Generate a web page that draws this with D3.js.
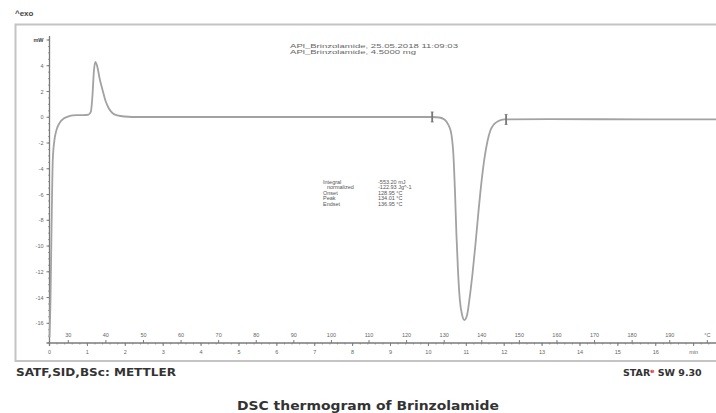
<!DOCTYPE html>
<html>
<head>
<meta charset="utf-8">
<script src="https://cdn.jsdelivr.net/npm/d3@7"></script>
<style>
  html, body { margin: 0; padding: 0; background: #fff; }
  svg { display: block; }
  text { font-family: "Liberation Sans", Arial, sans-serif; }
  text.heavy { font-family: "DejaVu Sans", Verdana, sans-serif; }
</style>
</head>
<body>
<svg id="chart" width="716" height="413"></svg>
<script>
// ── Data ───────────────────────────────────────────────────────────────────

// time in minutes, heat flow in mW
const timeMin = [0, 0.026, 0.053, 0.087, 0.13, 0.177, 0.264, 0.396, 0.53, 0.71, 0.9, 1.03,
  1.09, 1.135, 1.17, 1.21, 1.27, 1.32, 1.4, 1.48, 1.56, 1.66, 1.79, 1.98, 2.37, 3.96, 6.6,
  9.23, 10.1, 10.29, 10.42, 10.53, 10.61, 10.66, 10.7, 10.74, 10.78, 10.83, 10.89, 10.95,
  11.02, 11.08, 11.16, 11.24, 11.32, 11.4, 11.48, 11.56, 11.64, 11.74, 11.85, 12.0, 13.19,
  15.83, 17.6];
const heatFlow = [-17.1, -14.2, -8.8, -3.3, -1.77, -1.07, -0.45, -0.06, 0.1, 0.17, 0.17, 0.21,
  0.41, 1.73, 3.51, 4.29, 3.83, 3.05, 2.12, 1.26, 0.72, 0.33, 0.14, 0.06, 0.02, 0.02, 0.02,
  0.02, 0.02, -0.02, -0.17, -0.6, -1.38, -2.93, -5.65, -9.15, -11.86, -14.2, -15.36, -15.75,
  -15.36, -14.2, -12.25, -9.92, -7.36, -5.03, -3.17, -1.84, -0.99, -0.52, -0.29, -0.17, -0.14,
  -0.17, -0.17];

// integration limits (min)
const limitTimes = [10.1, 12.05];

const yTicks   = [6, 4, 2, 0, -2, -4, -6, -8, -10, -12, -14, -16];
const yUnit    = 'mW';
const minTicks = d3.range(0, 18);
const minUnit  = 'min';
const tempTicks = d3.range(30, 210, 10);
const tempUnit = '°C';
const startTemp = 25, heatRate = 10.08;

const sampleLines = ['APl_Brinzolamide, 25.05.2018 11:09:03', 'APl_Brinzolamide, 4.5000 mg'];
const resultLabels = ['Integral', 'normalized', 'Onset', 'Peak', 'Endset'];
const resultValues = ['-553.20 mJ', '-122.93 Jg^-1', '128.95 °C', '134.01 °C', '136.95 °C'];

// ── Layout ─────────────────────────────────────────────────────────────────

const svg = d3.select('#chart');
const axisCol = '#7a7a7a', curveCol = '#a2a2a2', textCol = '#666';

const x = d3.scaleLinear().domain([0, 17.59]).range([49.5, 716]);
const y = d3.scaleLinear().domain([-17.53, 6.31]).range([343, 36]);
const tempToTime = T => (T - startTemp) / heatRate;

// outer frame
svg.append('rect')
  .attr('x', 15.5).attr('y', 24.5).attr('width', 720).attr('height', 336.5)
  .attr('fill', 'none').attr('stroke', '#c4c4c4').attr('stroke-width', 2);

// ^exo
svg.append('text').attr('x', 15).attr('y', 16)
  .attr('font-size', 8).attr('font-weight', 'bold').attr('fill', '#444')
  .text('^exo');

// ── Y axis ─────────────────────────────────────────────────────────────────

const yAxis = svg.append('g').attr('class', 'y-axis');
yAxis.append('line')
  .attr('x1', x(0)).attr('x2', x(0)).attr('y1', 36).attr('y2', 346)
  .attr('stroke', axisCol).attr('stroke-width', 1.3);

yAxis.selectAll('line.minor')
  .data(d3.range(-17.5, 6.01, 0.5))
  .join('line').attr('class', 'minor')
  .attr('x1', x(0) - 1.5).attr('x2', x(0))
  .attr('y1', d => y(d)).attr('y2', d => y(d))
  .attr('stroke', axisCol).attr('stroke-width', 0.7);

yAxis.selectAll('line.major')
  .data(yTicks)
  .join('line').attr('class', 'major')
  .attr('x1', x(0) - 3).attr('x2', x(0))
  .attr('y1', d => y(d)).attr('y2', d => y(d))
  .attr('stroke', axisCol).attr('stroke-width', 1);

yAxis.selectAll('text')
  .data(yTicks)
  .join('text')
  .attr('x', x(0) - 6).attr('y', d => y(d) + 2)
  .attr('text-anchor', 'end').attr('font-size', 5.5)
  .attr('fill', (d, i) => i === 0 ? '#444' : textCol)
  .attr('font-weight', (d, i) => i === 0 ? 'bold' : 'normal')
  .text((d, i) => i === 0 ? yUnit : d);

// ── X axis (minutes below, temperature above) ──────────────────────────────

const xAxis = svg.append('g').attr('class', 'x-axis');
const axisY = 343;
xAxis.append('line')
  .attr('x1', x(0) - 3).attr('x2', 716).attr('y1', axisY).attr('y2', axisY)
  .attr('stroke', axisCol).attr('stroke-width', 1.3);

xAxis.selectAll('line.minor')
  .data(d3.range(0, 17.6, 0.2))
  .join('line').attr('class', 'minor')
  .attr('x1', d => x(d)).attr('x2', d => x(d))
  .attr('y1', axisY).attr('y2', axisY + 1.5)
  .attr('stroke', axisCol).attr('stroke-width', 0.7);

xAxis.selectAll('line.major')
  .data(minTicks)
  .join('line').attr('class', 'major')
  .attr('x1', d => x(d)).attr('x2', d => x(d))
  .attr('y1', axisY).attr('y2', axisY + 3)
  .attr('stroke', axisCol).attr('stroke-width', 1);

xAxis.selectAll('text.min')
  .data(minTicks)
  .join('text').attr('class', 'min')
  .attr('x', d => x(d)).attr('y', 354)
  .attr('text-anchor', 'middle').attr('font-size', 5.5).attr('fill', textCol)
  .text((d, i) => i === minTicks.length - 1 ? minUnit : d);

xAxis.selectAll('line.temp')
  .data(tempTicks)
  .join('line').attr('class', 'temp')
  .attr('x1', d => x(tempToTime(d))).attr('x2', d => x(tempToTime(d)))
  .attr('y1', axisY - 3).attr('y2', axisY)
  .attr('stroke', axisCol).attr('stroke-width', 1);

xAxis.selectAll('text.temp')
  .data(tempTicks)
  .join('text').attr('class', 'temp')
  .attr('x', d => x(tempToTime(d))).attr('y', 337)
  .attr('text-anchor', 'middle').attr('font-size', 5.5).attr('fill', textCol)
  .text((d, i) => i === tempTicks.length - 1 ? tempUnit : d);

// ── Curve ──────────────────────────────────────────────────────────────────

const pts = timeMin.map((t, i) => [t, heatFlow[i]]);
const line = d3.line().x(d => x(d[0])).y(d => y(d[1])).curve(d3.curveMonotoneX);

svg.append('path')
  .datum(pts)
  .attr('d', line)
  .attr('fill', 'none').attr('stroke', curveCol).attr('stroke-width', 1.8);

// integration limit markers
const interp = t => {
  const i = d3.bisectRight(timeMin, t) - 1;
  const f = (t - timeMin[i]) / (timeMin[i + 1] - timeMin[i]);
  return heatFlow[i] + f * (heatFlow[i + 1] - heatFlow[i]);
};
const marks = svg.append('g').attr('class', 'limits');
for (const t of limitTimes) {
  const cx = x(t), cy = y(interp(t));
  marks.append('line').attr('x1', cx).attr('x2', cx).attr('y1', cy - 5).attr('y2', cy + 5)
    .attr('stroke', '#777').attr('stroke-width', 1.8);
  marks.append('line').attr('x1', cx - 1.5).attr('x2', cx + 1.5).attr('y1', cy - 5).attr('y2', cy - 5)
    .attr('stroke', '#777').attr('stroke-width', 0.8);
  marks.append('line').attr('x1', cx - 1.5).attr('x2', cx + 1.5).attr('y1', cy + 5).attr('y2', cy + 5)
    .attr('stroke', '#777').attr('stroke-width', 0.8);
}

// ── Annotations ────────────────────────────────────────────────────────────

svg.append('g').selectAll('text')
  .data(sampleLines)
  .join('text')
  .attr('x', 290).attr('y', (d, i) => 48 + i * 6)
  .attr('font-size', 5.5).attr('fill', '#666')
  .attr('lengthAdjust', 'spacingAndGlyphs')
  .attr('textLength', (d, i) => i === 0 ? 168 : 126)
  .text(d => d);

const res = svg.append('g').attr('class', 'results');
res.selectAll('text.lbl')
  .data(resultLabels)
  .join('text').attr('class', 'lbl')
  .attr('x', (d, i) => i === 1 ? 327 : 323).attr('y', (d, i) => 183.5 + i * 5.6)
  .attr('font-size', 5.5).attr('fill', '#555')
  .text(d => d);
res.selectAll('text.val')
  .data(resultValues)
  .join('text').attr('class', 'val')
  .attr('x', 378).attr('y', (d, i) => 183.5 + i * 5.6)
  .attr('font-size', 5.5).attr('fill', '#555')
  .text(d => d);

// ── Footer ─────────────────────────────────────────────────────────────────

svg.append('text').attr('class', 'heavy').attr('x', 16).attr('y', 376)
  .attr('font-size', 10).attr('font-weight', 'bold')
  .attr('fill', '#333').attr('lengthAdjust', 'spacingAndGlyphs').attr('textLength', 160)
  .text('SATF,SID,BSc: METTLER');

const star = svg.append('text').attr('class', 'heavy').attr('x', 623).attr('y', 376)
  .attr('font-size', 9.5).attr('font-weight', 'bold')
  .attr('fill', '#333');
star.append('tspan').text('STAR');
star.append('tspan').attr('fill', '#d33').attr('font-size', 6).attr('dy', -3).text('e');
star.append('tspan').attr('dy', 3).text(' SW 9.30');

svg.append('text').attr('class', 'heavy').attr('x', 368).attr('y', 410)
  .attr('text-anchor', 'middle')
  .attr('font-size', 12).attr('font-weight', 'bold')
  .attr('fill', '#333').attr('lengthAdjust', 'spacingAndGlyphs').attr('textLength', 262)
  .text('DSC thermogram of Brinzolamide');
</script>
</body>
</html>
